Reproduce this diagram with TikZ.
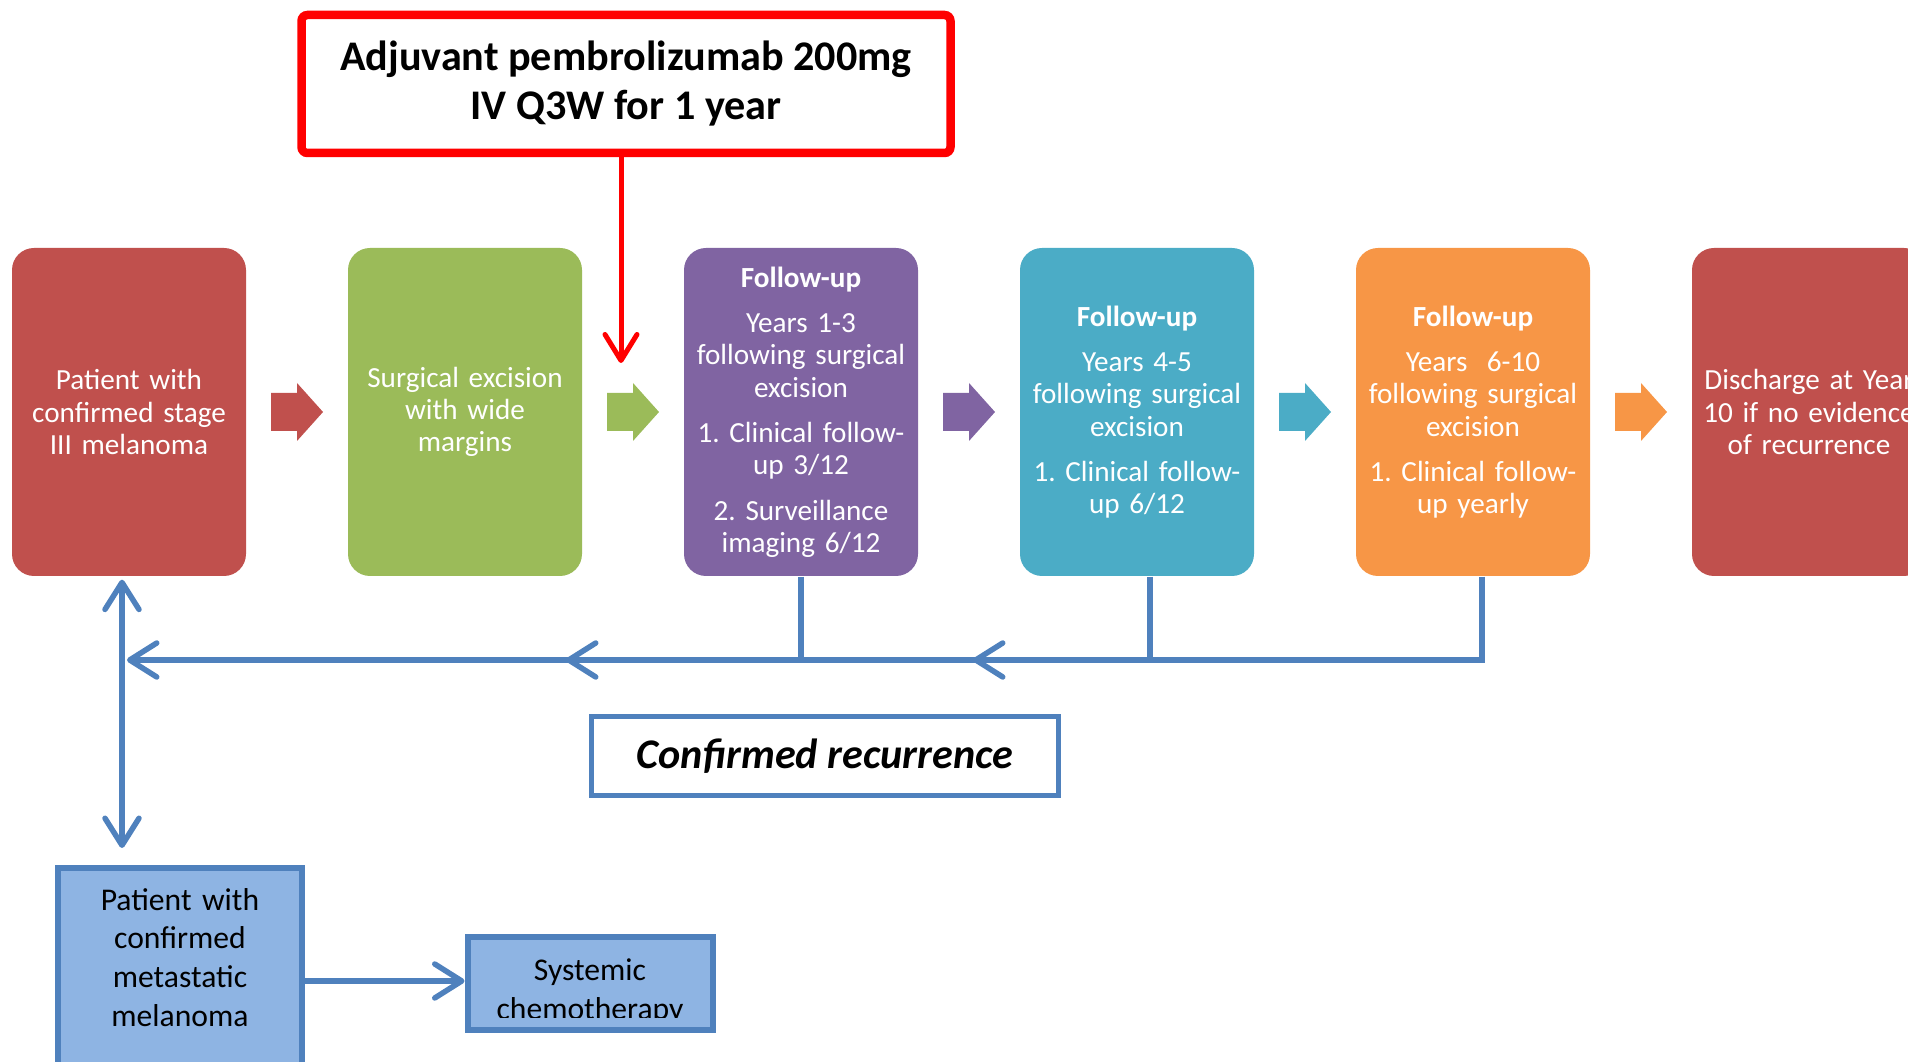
\documentclass[tikz,border=0pt]{standalone}
\usepackage{fontspec}
\setmainfont{Carlito}
\usepackage{xcolor}
\usetikzlibrary{arrows.meta,calc}
\definecolor{boxred}{HTML}{C0504D}
\definecolor{boxgreen}{HTML}{9BBB59}
\definecolor{boxpurple}{HTML}{8064A2}
\definecolor{boxaqua}{HTML}{4BACC6}
\definecolor{boxorange}{HTML}{F79646}
\definecolor{linkblue}{HTML}{4F81BD}
\definecolor{metablue}{HTML}{8EB4E3}
\tikzset{chev/.tip={Straight Barb[length=2.7mm,width=3.4mm,round]}}
\frenchspacing
\begin{document}
\begin{tikzpicture}[x=0.1mm,y=-0.1mm,
stage/.style={rectangle,rounded corners=2.2mm,minimum width=23.4mm,minimum height=32.8mm,text width=22.4mm,align=center,text=white,inner sep=0.5mm,font=\fontsize{8.3}{9.2}\selectfont},
metabox/.style={rectangle,draw=linkblue,line width=0.6mm,fill=metablue,align=center,inner sep=0.5mm,font=\fontsize{9}{11}\selectfont},
recur/.style={linkblue,line width=0.55mm,-chev}]
\useasboundingbox(0,0)rectangle(1908,1062);
\clip(0,0)rectangle(1908,1062);
\node[stage,fill=boxred](b1)at(129,412){Patient with\\confirmed stage\\III melanoma};
\node[stage,fill=boxgreen](b2)at(465,412){Surgical excision\\with wide\\margins};
\node[stage,fill=boxpurple](b3)at(801,412){\textbf{Follow-up}\\[3.7pt]Years 1-3\\following surgical\\excision\\[3.7pt]1. Clinical follow-\\up 3/12\\[3.7pt]2. Surveillance\\imaging 6/12};
\node[stage,fill=boxaqua](b4)at(1137,412){\textbf{Follow-up}\\[3.7pt]Years 4-5\\following surgical\\excision\\[3.7pt]1. Clinical follow-\\up 6/12};
\node[stage,fill=boxorange](b5)at(1473,412){\textbf{Follow-up}\\[3.7pt]Years~ 6-10\\following surgical\\excision\\[3.7pt]1. Clinical follow-\\up yearly};
\node[stage,fill=boxred](b6)at(1809,412){Discharge at Year\\10 if no evidence\\of recurrence};
\foreach \cx/\col in {297/boxred,633/boxgreen,969/boxpurple,1305/boxaqua,1641/boxorange}
\fill[\col](\cx-26,393)--(\cx,393)--(\cx,383)--(\cx+26,412)--(\cx,441)--(\cx,431)--(\cx-26,431)--cycle;
\node[draw=red,line width=0.85mm,rounded corners=0.6mm,minimum width=64.9mm,minimum height=13.8mm,align=center,font=\bfseries\fontsize{12}{14.5}\selectfont](adj)at(626,84){\raisebox{-0.2mm}{Adjuvant pembrolizumab 200mg}\\IV Q3W for 1 year};
\coordinate(rtip)at(621,363);
\draw[red,line width=0.5mm,-{Straight Barb[length=2.6mm,width=3.2mm,round]}](adj.south -| rtip)--(rtip);
\coordinate(k1)at(973,660);
\coordinate(k2)at(566,660);
\coordinate(k3)at(127,660);
\draw[recur](b5.south)++(9,0)|-(k1);
\draw[recur](b4.south)++(13,0)|-(k2);
\draw[recur](b3.south)|-(k3);
\node[draw=linkblue,line width=0.5mm,fill=white,minimum width=46.7mm,minimum height=7.9mm,font=\bfseries\itshape\fontsize{12}{14}\selectfont](conf)at(825,756){Confirmed recurrence};
\node[metabox,text width=23mm,minimum width=24.4mm,minimum height=22.2mm](meta)at(180,979){Patient with\\confirmed\\metastatic\\melanoma\\[1.5pt]\mbox{}};
\node[metabox,minimum width=24.5mm,minimum height=9.3mm,
path picture={\clip(path picture bounding box.north west)rectangle($(path picture bounding box.south east)+(0,1.25mm)$);
\node[draw=none,fill=none,text=black,minimum width=0,minimum height=0,align=center,font=\fontsize{9}{11}\selectfont]at($(path picture bounding box.center)+(0,-0.8mm)$){Systemic\\chemotherapy};}](chemo)at(590,984){};
\coordinate(vx)at(122,0);
\draw[recur,chev-chev,shorten <=0.3mm,shorten >=1.7mm](b1.south -| vx)--(meta.north -| vx);
\draw[recur]([yshift=0.3mm]chemo.west -| meta.east)--([yshift=0.3mm]chemo.west);
\end{tikzpicture}
\end{document}
